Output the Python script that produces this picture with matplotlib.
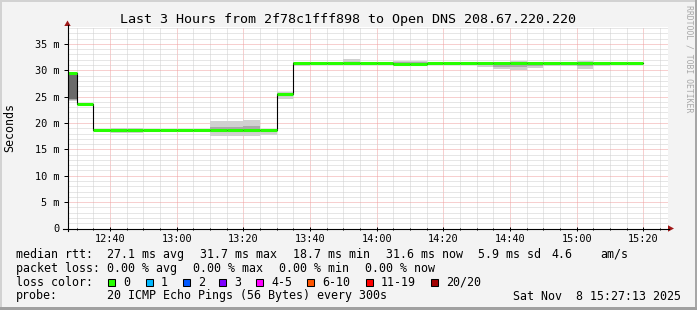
import matplotlib
matplotlib.use("Agg")
import matplotlib.pyplot as plt
from matplotlib.patches import Rectangle, Polygon
from matplotlib.lines import Line2D
from matplotlib.ticker import MultipleLocator, FuncFormatter
import numpy as np

# ---------------- data ----------------
bucket_times = ["12:25", "12:30", "12:35", "12:40", "12:45", "12:50", "12:55", "13:00",
                "13:05", "13:10", "13:15", "13:20", "13:25", "13:30", "13:35", "13:40",
                "13:45", "13:50", "13:55", "14:00", "14:05", "14:10", "14:15", "14:20",
                "14:25", "14:30", "14:35", "14:40", "14:45", "14:50", "14:55", "15:00",
                "15:05", "15:10", "15:15"]
median_ms = [29.45, 23.65, 18.7, 18.7, 18.7, 18.7, 18.7, 18.7, 18.7, 18.7, 18.7, 18.7,
             18.7, 25.5, 31.4, 31.4, 31.4, 31.4, 31.4, 31.4, 31.2, 31.2, 31.45, 31.45,
             31.45, 31.45, 31.45, 31.45, 31.45, 31.45, 31.45, 31.45, 31.45, 31.45, 31.45]
smoke_min = [24.2, 23.65, 18.7, 18.05, 18.05, 18.7, 18.7, 18.7, 18.7, 17.6, 17.6, 17.6,
             17.75, 24.6, 30.85, 31.2, 31.2, 31.2, 31.2, 31.2, 30.75, 30.75, 31.1, 31.1,
             31.1, 30.6, 30.3, 30.1, 30.45, 30.8, 30.8, 30.25, 30.8, 30.95, 30.95]
smoke_max = [29.7, 23.65, 18.7, 19.0, 19.0, 18.7, 18.7, 18.7, 18.7, 20.3, 20.3, 20.6,
             18.7, 25.8, 31.6, 31.6, 31.6, 32.1, 31.6, 31.6, 31.8, 31.8, 31.6, 31.6,
             31.6, 31.6, 31.6, 31.7, 31.6, 31.6, 31.6, 31.7, 31.6, 31.6, 31.6]
smoke_lo = [24.4, np.nan, np.nan, np.nan, np.nan, np.nan, np.nan, np.nan, np.nan, 18.2, 18.2, 18.2,
            np.nan, 25.1, 31.1, np.nan, np.nan, np.nan, np.nan, np.nan, 31.0, 31.0, np.nan, np.nan,
            np.nan, 31.0, 30.7, 30.6, 30.9, np.nan, np.nan, 30.8, np.nan, np.nan, np.nan]
smoke_hi = [29.6, np.nan, np.nan, np.nan, np.nan, np.nan, np.nan, np.nan, np.nan, 19.2, 19.2, 19.4,
            np.nan, 25.6, 31.5, np.nan, np.nan, np.nan, np.nan, np.nan, 31.6, 31.6, np.nan, np.nan,
            np.nan, 31.5, 31.5, 31.5, 31.5, np.nan, np.nan, 31.6, np.nan, np.nan, np.nan]
core_lo = [24.6] + [np.nan] * 34
core_hi = [29.5] + [np.nan] * 34

view_start = "12:27:13"
view_end = "15:27:13"
y_max = 38.2

title = "Last 3 Hours from 2f78c1fff898 to Open DNS 208.67.220.220"
y_label = "Seconds"
watermark = "RRDTOOL / TOBI OETIKER"

rtt_row = [("median rtt:", 16), ("27.1 ms avg", 107.3), ("31.7 ms max", 200),
           ("18.7 ms min", 293.3), ("31.6 ms now", 385.7), ("5.9 ms sd", 478.3),
           ("4.6", 551.7), ("am/s", 600)]
loss_row = [("packet loss:", 16), ("0.00 % avg", 107.3), ("0.00 % max", 193.3),
            ("0.00 % min", 279.3), ("0.00 % now", 365)]
loss_labels = ["0", "1", "2", "3", "4-5", "6-10", "11-19", "20/20"]
loss_colors = ["#26ff00", "#00b8ff", "#0059ff", "#7e00ff", "#ff00ff", "#ff5500", "#ff0000", "#a10000"]
loss_box_x = [108.3, 145.7, 182.7, 219.3, 256, 307.3, 365.7, 430.7]
probe_row = [("probe:", 16), ("20 ICMP Echo Pings (56 Bytes) every 300s", 107.3),
             ("Sat Nov  8 15:27:13 2025", 513.3)]

# ---------------- helpers ----------------
W, H = 697, 310
MONO = "DejaVu Sans Mono"
LEG_FS = 8.4


def fx(x):
    return x / W


def fy(y):
    return 1 - y / H


def to_min(t):
    parts = [int(p) for p in t.split(":")]
    m = (parts[0] - 12) * 60 + parts[1]
    if len(parts) > 2:
        m += parts[2] / 60.0
    return m


starts = np.array([to_min(t) for t in bucket_times], dtype=float)
width = 5.0
med = np.array(median_ms)

fig = plt.figure(figsize=(W / 100, H / 100), dpi=100)
fig.patch.set_facecolor("#f3f3f3")

# frame
fig.add_artist(Rectangle((0, 0), fx(2), 1, transform=fig.transFigure, color="#d2d2d2", lw=0))
fig.add_artist(Rectangle((0, fy(2)), 1, 2 / H, transform=fig.transFigure, color="#d2d2d2", lw=0))
fig.add_artist(Rectangle((fx(W - 2), 0), 2 / W, 1, transform=fig.transFigure, color="#a6a6a6", lw=0))
fig.add_artist(Rectangle((0, 0), 1, 3 / H, transform=fig.transFigure, color="#a0a0a0", lw=0))

left, right, top, bottom = 67.5, 667.5, 27, 228.5
ax = fig.add_axes([fx(left), fy(bottom), (right - left) / W, (bottom - top) / H])
ax.set_facecolor("white")
ax.set_xlim(to_min(view_start), to_min(view_end))
ax.set_ylim(0, y_max)
for s in ax.spines.values():
    s.set_visible(False)

ax.xaxis.set_major_locator(MultipleLocator(20))
ax.xaxis.set_minor_locator(MultipleLocator(5))
ax.yaxis.set_major_locator(MultipleLocator(5))
ax.yaxis.set_minor_locator(MultipleLocator(1))
ax.xaxis.set_major_formatter(FuncFormatter(lambda v, p: f"{12 + int(v) // 60:02d}:{int(v) % 60:02d}"))
ax.yaxis.set_major_formatter(FuncFormatter(lambda v, p: "0" if abs(v) < 1e-9 else f"{int(round(v))} m"))

dot = (0, (1, 1))
ax.grid(which="minor", color="#cfcfcf", linestyle=dot, linewidth=0.72)
ax.grid(which="major", color="#f0a0a0", linestyle=dot, linewidth=0.72)
ax.set_axisbelow(True)

ax.tick_params(axis="y", which="major", length=3, width=0.72, direction="out", pad=3,
               labelsize=7.4, colors="black")
ax.tick_params(axis="y", which="minor", length=0)
ax.tick_params(axis="x", which="major", length=2.5, width=0.72, direction="inout", pad=3,
               labelsize=7.4, colors="black")
ax.tick_params(axis="x", which="minor", length=1.5, width=0.72, direction="inout")
for lab in ax.get_xticklabels() + ax.get_yticklabels():
    lab.set_fontfamily(MONO)

# smoke
ax.bar(starts, np.array(smoke_max) - np.array(smoke_min), bottom=smoke_min, width=width,
       align="edge", color="#d0d0d0", linewidth=0, zorder=2)
ax.bar(starts, np.array(smoke_hi) - np.array(smoke_lo), bottom=smoke_lo, width=width,
       align="edge", color="#a9a9a9", linewidth=0, zorder=2.1)
ax.bar(starts, np.array(core_hi) - np.array(core_lo), bottom=core_lo, width=width,
       align="edge", color="#6a6a6a", linewidth=0, zorder=2.2)

# median line
ax.step(np.append(starts, starts[-1] + width), np.append(med, med[-1]), where="post",
        color="black", linewidth=0.8, zorder=3)
ax.hlines(med, starts, starts + width, colors="#26ff00", linewidth=2.2, zorder=4)

# axis lines with arrows
fig.add_artist(Line2D([fx(left), fx(left)], [fy(231), fy(25)], transform=fig.transFigure,
                      color="black", linewidth=0.8))
fig.add_artist(Line2D([fx(63), fx(669)], [fy(bottom), fy(bottom)], transform=fig.transFigure,
                      color="black", linewidth=0.8))
fig.add_artist(Polygon([[fx(64.3), fy(26)], [fx(70.7), fy(26)], [fx(67.5), fy(20.5)]],
                       closed=True, transform=fig.transFigure, color="#a01818", lw=0))
fig.add_artist(Polygon([[fx(668), fy(225.3)], [fx(668), fy(231.7)], [fx(674), fy(228.5)]],
                       closed=True, transform=fig.transFigure, color="#a01818", lw=0))

# texts
fig.text(fx(348.5), fy(19), title, ha="center", va="center", family=MONO, fontsize=9.6)
fig.text(fx(10), fy(127.5), y_label, ha="center", va="center", rotation=90, family=MONO,
         fontsize=LEG_FS)
fig.text(fx(688.5), fy(59), watermark, ha="center", va="center", rotation=270, family=MONO,
         fontsize=5.9, color="#a8a8a8")

row_y = [254.3, 268.3, 282.3, 296.0]
for txt, x in rtt_row:
    fig.text(fx(x), fy(row_y[0]), txt, ha="left", va="center", family=MONO, fontsize=LEG_FS)
for txt, x in loss_row:
    fig.text(fx(x), fy(row_y[1]), txt, ha="left", va="center", family=MONO, fontsize=LEG_FS)
fig.text(fx(16), fy(row_y[2]), "loss color:", ha="left", va="center", family=MONO, fontsize=LEG_FS)
for lab, col, x in zip(loss_labels, loss_colors, loss_box_x):
    fig.add_artist(Rectangle((fx(x), fy(row_y[2] + 4)), 7 / W, 7 / H, transform=fig.transFigure,
                             facecolor=col, edgecolor="black", linewidth=0.75))
    fig.text(fx(x + 15), fy(row_y[2]), lab, ha="left", va="center", family=MONO, fontsize=LEG_FS)
for txt, x in probe_row:
    fig.text(fx(x), fy(row_y[3]), txt, ha="left", va="center", family=MONO, fontsize=LEG_FS)

fig.savefig("out.png", dpi=100, facecolor=fig.get_facecolor())
